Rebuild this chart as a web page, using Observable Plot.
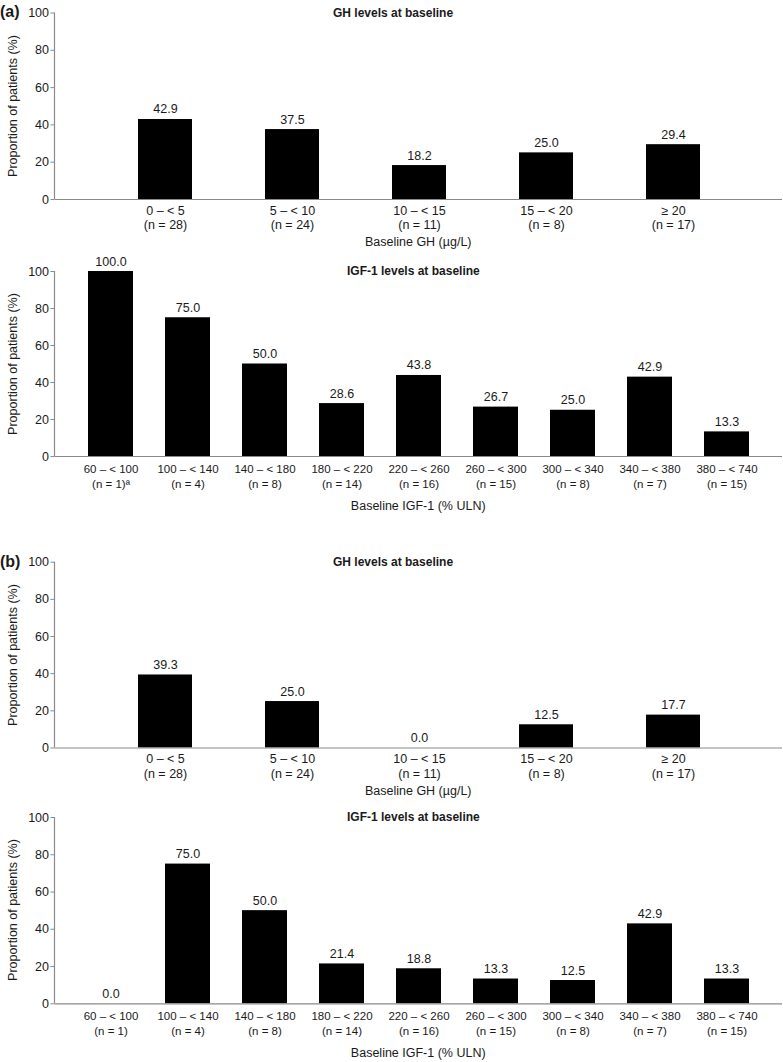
<!DOCTYPE html>
<html><head><meta charset="utf-8">
<script src="https://cdn.jsdelivr.net/npm/d3@7"></script>
<script src="https://cdn.jsdelivr.net/npm/@observablehq/plot@0.6"></script>
<style>
body{margin:0;background:#fff;font-family:"Liberation Sans",Arial,sans-serif;}
#wrap{position:relative;width:783px;height:1062px;overflow:hidden;background:#fff;}
.abs{position:absolute;white-space:nowrap;color:#1a1a1a;line-height:1;}
.svgbox{position:absolute;left:0;}
.svgbox svg{overflow:visible;}
</style></head><body><div id="wrap"></div>
<script>
// ---------- data ----------
const ghCategories = ["0 – < 5", "5 – < 10", "10 – < 15", "15 – < 20", "≥ 20"];
const ghCounts = ["(n = 28)", "(n = 24)", "(n = 11)", "(n = 8)", "(n = 17)"];
const ghValuesA = [42.9, 37.5, 18.2, 25.0, 29.4];
const ghValuesB = [39.3, 25.0, 0.0, 12.5, 17.7];

const igfCategories = ["60 – < 100", "100 – < 140", "140 – < 180", "180 – < 220", "220 – < 260",
  "260 – < 300", "300 – < 340", "340 – < 380", "380 – < 740"];
const igfCountsA = ["(n = 1)ª", "(n = 4)", "(n = 8)", "(n = 14)", "(n = 16)", "(n = 15)", "(n = 8)", "(n = 7)", "(n = 15)"];
const igfCountsB = ["(n = 1)", "(n = 4)", "(n = 8)", "(n = 14)", "(n = 16)", "(n = 15)", "(n = 8)", "(n = 7)", "(n = 15)"];
const igfValuesA = [100.0, 75.0, 50.0, 28.6, 43.8, 26.7, 25.0, 42.9, 13.3];
const igfValuesB = [0.0, 75.0, 50.0, 21.4, 18.8, 13.3, 12.5, 42.9, 13.3];

const yTicks = [0, 20, 40, 60, 80, 100];
const ghTitle = "GH levels at baseline";
const igfTitle = "IGF-1 levels at baseline";
const ghXLabel = "Baseline GH (µg/L)";
const igfXLabel = "Baseline IGF-1 (% ULN)";
const yLabel = "Proportion of patients (%)";

// ---------- layout ----------
const W = 783, ML = 54.5, MR = 1;
const FONT = '"Liberation Sans", Arial, sans-serif';
const TXT = "#1a1a1a", AX = "#8a8a8a";
const wrap = document.getElementById("wrap");

function addText(txt, left, top, opts = {}) {
  const d = document.createElement("div");
  d.className = "abs";
  d.textContent = txt;
  d.style.left = left + "px";
  d.style.top = top + "px";
  d.style.fontSize = (opts.size || 12) + "px";
  if (opts.bold) d.style.fontWeight = "bold";
  let tf = opts.center ? "translate(-50%,-50%)" : "translate(0,-50%)";
  if (opts.rotate) tf = "translate(-50%,-50%) rotate(-90deg)";
  d.style.transform = tf;
  wrap.appendChild(d);
}

function panel(cfg) {
  const data = cfg.cats.map((c, i) => ({cat: c, value: cfg.values[i], n: cfg.counts[i]}));
  const nOf = new Map(data.map(d => [d.cat, d.n]));
  const plot = Plot.plot({
    width: W, height: cfg.height,
    marginLeft: ML, marginRight: MR, marginTop: cfg.mt, marginBottom: cfg.mb,
    style: {fontFamily: FONT, fontSize: "12px", color: TXT, background: "transparent", overflow: "visible"},
    x: {type: "band", domain: cfg.cats, range: cfg.range, paddingInner: cfg.pad, paddingOuter: cfg.pad / 2, label: null},
    y: {domain: [0, 100], label: null},
    marks: [
      Plot.barY(data, {x: "cat", y: "value", fill: "#000"}),
      Plot.ruleY([0], {stroke: AX, strokeWidth: 1.2}),
      Plot.text(data, {x: "cat", y: "value", text: d => d.value.toFixed(1), dy: -10, lineAnchor: "middle", fontSize: 12.5, fill: TXT}),
      Plot.axisY({ticks: yTicks, tickSize: 4, tickPadding: 2, stroke: AX, fill: TXT, label: null, fontSize: 12.5}),
      Plot.axisX({tickSize: 0, tickPadding: cfg.tp, tickFormat: c => c + "\n" + nOf.get(c), lineHeight: cfg.lh, label: null, fontSize: cfg.fs, fill: TXT})
    ]
  });
  // left axis line
  d3.select(plot).append("line")
    .attr("x1", ML).attr("x2", ML)
    .attr("y1", cfg.mt).attr("y2", cfg.height - cfg.mb)
    .attr("stroke", AX).attr("stroke-width", 1.2);
  const box = document.createElement("div");
  box.className = "svgbox";
  box.style.top = cfg.top + "px";
  box.appendChild(plot);
  wrap.appendChild(box);
  const y100 = cfg.top + cfg.mt, y0 = cfg.top + cfg.height - cfg.mb;
  addText(cfg.title, cfg.titleX, y100, {bold: true, size: 12});
  addText(cfg.xLabel, (ML + W - MR) / 2, y0 + cfg.xlOff, {center: true, size: 12.5});
  addText(yLabel, 13, (y100 + y0) / 2, {rotate: true, size: 12.5});
}

const ghRange = [99.6, 738.4], ghPad = 0.573;
const igfRange = [70.2, 767.0], igfPad = 0.41;

panel({cats: ghCategories, values: ghValuesA, counts: ghCounts, top: 0, height: 236, mt: 12.5, mb: 37,
  range: ghRange, pad: ghPad, tp: 5, lh: 1.15, fs: 12.5, title: ghTitle, titleX: 333, xLabel: ghXLabel, xlOff: 43});
panel({cats: igfCategories, values: igfValuesA, counts: igfCountsA, top: 240, height: 250, mt: 31, mb: 34,
  range: igfRange, pad: igfPad, tp: 6, lh: 1.3, fs: 11.5, title: igfTitle, titleX: 347, xLabel: igfXLabel, xlOff: 50});
panel({cats: ghCategories, values: ghValuesB, counts: ghCounts, top: 540, height: 245, mt: 21.7, mb: 37.5,
  range: ghRange, pad: ghPad, tp: 5, lh: 1.15, fs: 12.5, title: ghTitle, titleX: 333, xLabel: ghXLabel, xlOff: 43});
panel({cats: igfCategories, values: igfValuesB, counts: igfCountsB, top: 795, height: 245, mt: 22, mb: 36.7,
  range: igfRange, pad: igfPad, tp: 6, lh: 1.3, fs: 11.5, title: igfTitle, titleX: 347, xLabel: igfXLabel, xlOff: 50});

addText("(a)", 0, 12, {bold: true, size: 16});
addText("(b)", 0, 562, {bold: true, size: 16});
</script></body></html>
